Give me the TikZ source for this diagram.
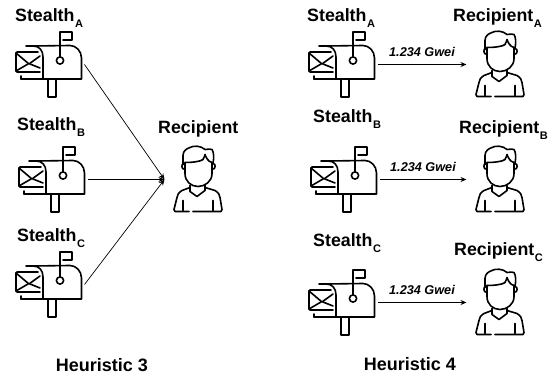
\documentclass[tikz,border=0pt]{standalone}
\usepackage{fontspec}
\setmainfont{Liberation Sans}
\usepackage{tikz}
\usetikzlibrary{positioning,calc,arrows.meta}

\newcommand{\subtag}[1]{\kern0.5pt\raisebox{-6pt}{\fontsize{11}{11}\selectfont #1}}
\tikzset{
    icon/.style={line width=1.6pt, line cap=round, line join=round},
    title/.style={font=\bfseries\fontsize{17.8}{17.8}\selectfont, inner sep=0pt, anchor=base west},
    caption/.style={font=\bfseries\fontsize{18}{18}\selectfont, inner sep=0pt, anchor=base},
    amount/.style={font=\bfseries\itshape\fontsize{12.7}{12.7}\selectfont, inner sep=0pt},
    flow/.style={-{Stealth[length=6pt,width=5pt]}, line width=0.7pt},
    mailbox/.pic={
        \begin{scope}[icon]
            % envelope
            \draw (22,20) -- (1,20) -- (0,21) -- (0,39) -- (1,40) -- (24,40);
            \draw (0,21) -- (13,32) -- (24,24);
            \draw (0,39) -- (12,32);
            \draw (14,32) -- (24,36);
            % box
            \draw (10,14) -- (17,14) .. controls (23,14) and (27,18) .. (27,25) -- (27,47) -- (65.5,47) -- (65.5,26)
                .. controls (65.5,19) and (60,13.5) .. (54,13.5) -- (17,14);
            \draw (5,47) -- (27,47);
            \draw (5,44) -- (5,47);
            % flag
            \draw (44,25) -- (44,0) -- (56,0) -- (56,8) -- (47,8);
            \draw (44,28.5) circle (3.6);
            % post
            \draw (32,48) -- (32,65) -- (40,65) -- (40,48);
        \end{scope}
        \coordinate (-east) at (68.5,32.5);
    },
    person/.pic={
        \begin{scope}[icon]
            % face
            \draw (-13,-17) -- (-13,-6) .. controls (-13,2) and (-7,7) .. (0,7)
                .. controls (7,7) and (14,2) .. (14,-6) -- (14,-17);
            % hair
            \draw (-15,-15) -- (-15,-24) .. controls (-15,-29) and (-11,-31) .. (-8,-32) .. controls (-5,-34) and (3,-34) .. (7,-30)
                .. controls (10,-30) and (13,-31) .. (14,-30) .. controls (16,-27) and (16,-22) .. (15,-16);
            \draw (-13,-17) .. controls (-6,-17) and (3,-18) .. (5,-20) .. controls (6,-22) and (7,-24) .. (7,-25)
                .. controls (8,-22) and (10,-18) .. (14,-17);
            % ears
            \draw (-14,-16) .. controls (-17,-16) and (-17,-10) .. (-13,-10);
            \draw (15,-16) .. controls (18,-16) and (18,-10) .. (14,-10);
            % collar and neck
            \draw (-8,6) -- (-8,12) -- (-1,17) -- (7,11) -- (7,6);
            % shoulders
            \draw (-8,8) -- (-16,11) .. controls (-19,13) and (-21,15) .. (-21,18) -- (-24,30) -- (-23,32) -- (-9,32);
            \draw (7,8) -- (17,11) .. controls (20,13) and (22,15) .. (22,18) -- (24,30) -- (23,32) -- (-5,32);
            \draw (-15,21) -- (-15,31);
            \draw (15,21) -- (15,31);
        \end{scope}
        \coordinate (-west) at (-33.5,0);
    }
}

\begin{document}
\begin{tikzpicture}[x=1pt,y=-1pt]
    \useasboundingbox (0,0) rectangle (558,377);

    % Heuristic 3
    \node[title] (stealthA) at (15,22) {Stealth\subtag{A}};
    \node[title] (stealthB) at (17,131) {Stealth\subtag{B}};
    \node[title] (stealthC) at (17,242) {Stealth\subtag{C}};
    \pic (boxA) at (16,32) {mailbox};
    \pic (boxB) at (19,147) {mailbox};
    \pic (boxC) at (16,252) {mailbox};
    \node[title] (recipient) at (158,134) {Recipient};
    \pic (man) at (198,179.5) {person};
    \draw[flow] (boxA-east) -- (man-west);
    \draw[flow] (boxB-east) -- (man-west);
    \draw[flow] (boxC-east) -- (man-west);
    \node[caption] (heuristicL) at (102,372) {Heuristic 3};

    % Heuristic 4
    \node[title] (stealthRA) at (307,22) {Stealth\subtag{A}};
    \node[title] (stealthRB) at (313,123) {Stealth\subtag{B}};
    \node[title] (stealthRC) at (313,247) {Stealth\subtag{C}};
    \node[title] (recipientA) at (453,22) {Recipient\subtag{A}};
    \node[title] (recipientB) at (459,134) {Recipient\subtag{B}};
    \node[title] (recipientC) at (454,256) {Recipient\subtag{C}};
    \foreach \nm/\xbox/\ybox in {A/309/32, B/311/147, C/309/270}{
        \pic (boxR\nm) at (\xbox,\ybox) {mailbox};
        \pic (man\nm) at (500,\ybox+32.5) {person};
        \draw[flow] (boxR\nm-east) -- (man\nm-west) node[amount, midway, above=7.5pt] (gwei\nm) {1.234 Gwei};
    }
    \node[caption] (heuristicR) at (410,371) {Heuristic 4};
\end{tikzpicture}
\end{document}
